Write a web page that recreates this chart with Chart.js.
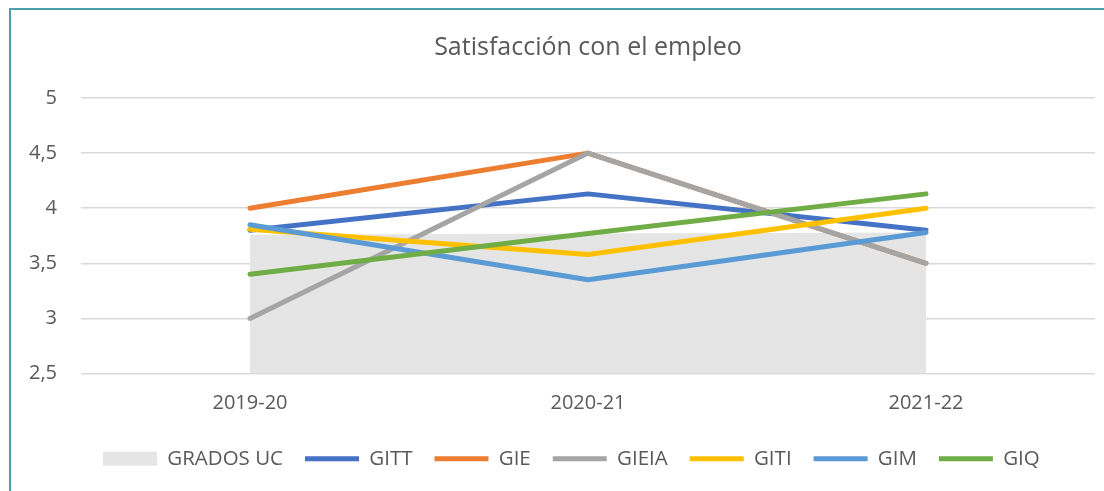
<!DOCTYPE html>
<html>
<head>
<meta charset="utf-8">
<script src="https://cdn.jsdelivr.net/npm/chart.js@4/dist/chart.umd.min.js"></script>
<style>
  html, body { margin: 0; padding: 0; background: #fff; overflow: hidden; }
  #wrap { position: relative; width: 1104px; height: 491px; }
  #frame { position: absolute; left: 9px; top: 8px; width: 1200px; height: 600px;
           border-left: 2px solid #4a9fa8; border-top: 2px solid #4a9fa8; pointer-events: none; }
</style>
</head>
<body>
<div id="wrap">
  <canvas id="chart" width="1104" height="491"></canvas>
  <div id="frame"></div>
</div>
<script>
const categories = ['2019-20', '2020-21', '2021-22']
const gradosUC = [3.76, 3.77, 3.78]
const gitt = [3.80, 4.13, 3.80]
const gie = [4.0, 4.5, 3.5]
const gieia = [3.0, 4.5, 3.5]
const giti = [3.81, 3.58, 4.0]
const gim = [3.85, 3.35, 3.78]
const giq = [3.40, 3.77, 4.13]
const yTickLabels = ['2,5', '3', '3,5', '4', '4,5', '5']

const textColor = '#595959'
const font = 'Open Sans'

function lineSet(label, data, color, order){
  return {
    label: label,
    data: data,
    borderColor: color,
    backgroundColor: color,
    borderWidth: 5,
    borderCapStyle: 'round',
    borderJoinStyle: 'round',
    pointRadius: 0,
    pointHoverRadius: 0,
    pointStyle: 'line',
    tension: 0,
    fill: false,
    order: order
  }
}

const ctx = document.getElementById('chart')
new Chart(ctx, {
  type: 'line',
  data: {
    labels: categories,
    datasets: [
      {
        label: 'GRADOS UC',
        data: gradosUC,
        borderWidth: 0,
        borderColor: 'rgba(0,0,0,0)',
        backgroundColor: '#e5e5e5',
        pointRadius: 0,
        pointHoverRadius: 0,
        pointStyle: 'rect',
        fill: 'start',
        tension: 0,
        order: 6
      },
      lineSet('GITT', gitt, '#4472c4', 5),
      lineSet('GIE', gie, '#ed7d31', 4),
      lineSet('GIEIA', gieia, '#a5a5a5', 3),
      lineSet('GITI', giti, '#ffc000', 2),
      lineSet('GIM', gim, '#5b9bd5', 1),
      lineSet('GIQ', giq, '#70ad47', 0)
    ]
  },
  options: {
    responsive: false,
    animation: false,
    layout: { padding: { left: 0, right: 9, top: 0, bottom: 12 } },
    plugins: {
      tooltip: { enabled: false },
      title: {
        display: true,
        text: 'Satisfacción con el empleo',
        fullSize: false,
        color: textColor,
        font: { family: font, size: 25, weight: 'normal' },
        padding: { top: 33, bottom: 35 }
      },
      legend: {
        position: 'bottom',
        fullSize: false,
        align: 'start',
        labels: {
          usePointStyle: true,
          pointStyleWidth: 54,
          boxHeight: 14,
          padding: 22,
          color: textColor,
          font: { family: font, size: 20.5 },
          sort: (a, b) => a.datasetIndex - b.datasetIndex
        }
      }
    },
    scales: {
      x: {
        offset: true,
        grid: { display: false, drawTicks: false },
        border: { display: false },
        ticks: { color: textColor, font: { family: font, size: 20 }, padding: 18, maxRotation: 0 },
        afterFit: (scale) => { scale.height = 53 }
      },
      y: {
        min: 2.5,
        max: 5,
        grid: { color: '#d9d9d9', lineWidth: 1.5, drawTicks: false },
        border: { display: false },
        ticks: {
          stepSize: 0.5,
          color: textColor,
          font: { family: font, size: 20 },
          padding: 24,
          callback: (value, index) => yTickLabels[index]
        },
        afterFit: (scale) => { scale.width = 81 }
      }
    }
  }
})
</script>
</body>
</html>
